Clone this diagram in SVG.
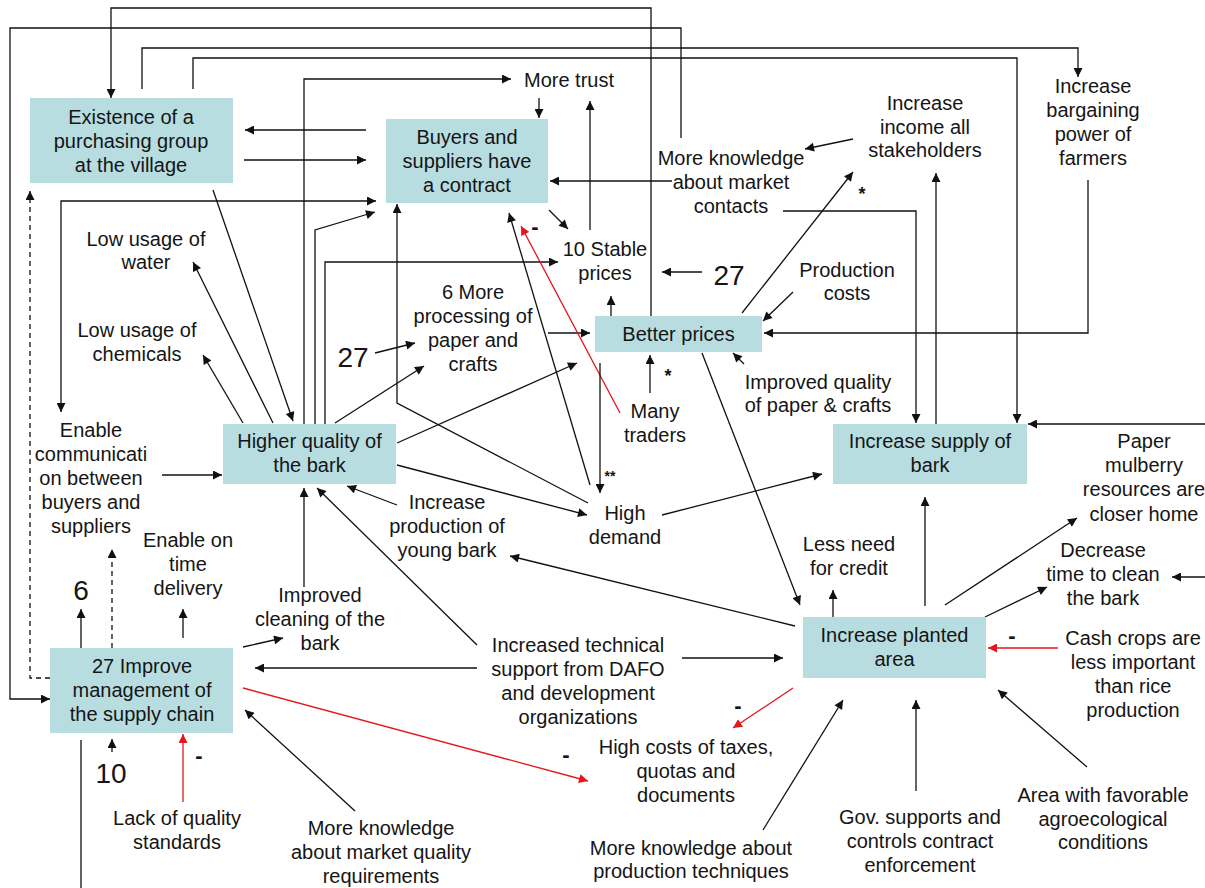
<svg xmlns="http://www.w3.org/2000/svg" width="1205" height="888" viewBox="0 0 1205 888">
  <style>
    text { font-family: "Liberation Sans", Arial, sans-serif; font-size: 20px; fill: #151515; text-anchor: middle; }
    .num { font-size: 28px; }
    .sign { font-size: 22px; font-weight: bold; }
    .star { font-size: 18px; font-weight: bold; }
    .star2 { font-size: 14px; font-weight: bold; }
    .box { fill: #b7dde1; }
    .c { fill: none; stroke: #111; stroke-width: 1.3; marker-end: url(#ah); }
    .c.r { stroke: #e3161c; marker-end: url(#ahr); }
    .c.d { stroke-dasharray: 5 4; }
    .c.plain { marker-end: none; }
    .c.both { marker-start: url(#ahs); }
  </style>
  <defs>
    <marker id="ah" viewBox="0 0 10 10" refX="10" refY="5" markerWidth="10" markerHeight="9" markerUnits="userSpaceOnUse" orient="auto">
      <path d="M0,0 L10,5 L0,10 z" fill="#111"/>
    </marker>
    <marker id="ahs" viewBox="0 0 10 10" refX="10" refY="5" markerWidth="10" markerHeight="9" markerUnits="userSpaceOnUse" orient="auto-start-reverse">
      <path d="M0,0 L10,5 L0,10 z" fill="#111"/>
    </marker>
    <marker id="ahr" viewBox="0 0 10 10" refX="10" refY="5" markerWidth="10" markerHeight="9" markerUnits="userSpaceOnUse" orient="auto">
      <path d="M0,0 L10,5 L0,10 z" fill="#e3161c"/>
    </marker>
  </defs>

  <rect width="1205" height="888" fill="#fff"/>

  <!-- connectors -->
  <g id="connectors">
    <path class="c" d="M651,316 V8 H111 V98"/>
    <path class="c" d="M681,138 V28 H10 V699 H50"/>
    <path class="c" d="M142,89 V48 H1078 V77"/>
    <path class="c" d="M193,89 V58 H1017 V423"/>
    <path class="c" d="M304,424 V79 H511"/>
    <path class="c" d="M315,424 V230 L375,212"/>
    <path class="c" d="M325,424 V262 H558"/>
    <path class="c both" d="M61,412 V201 H376"/>
    <path class="c" d="M366,130 H245"/>
    <path class="c" d="M244,160 H366"/>
    <path class="c" d="M213,190 L293,421"/>
    <path class="c" d="M273,423 L193,262"/>
    <path class="c" d="M243,423 L203,355"/>
    <path class="c" d="M162,475 H222"/>
    <path class="c" d="M335,423 L424,366"/>
    <path class="c" d="M375,353 L415,343"/>
    <path class="c" d="M548,333 H590"/>
    <path class="c" d="M397,443 L577,363"/>
    <path class="c" d="M397,465 L587,515"/>
    <path class="c" d="M397,505 L347,486"/>
    <path class="c" d="M304,587 V488"/>
    <path class="c" d="M477,645 L317,488"/>
    <path class="c" d="M588,503 L397,403 V204"/>
    <path class="c" d="M590,485 L509,213"/>
    <path class="c r" d="M620,413 L521,226"/>
    <path class="c" d="M549,210 L568,229"/>
    <path class="c" d="M590,230 V101"/>
    <path class="c" d="M539,98 V118"/>
    <path class="c" d="M672,181 H550"/>
    <path class="c" d="M783,211 H916 V423"/>
    <path class="c" d="M853,139 L805,149"/>
    <path class="c" d="M742,313 L853,172"/>
    <path class="c" d="M936,424 V173"/>
    <path class="c" d="M1088,180 V333 H764"/>
    <path class="c" d="M793,292 L763,321"/>
    <path class="c" d="M702,272 H662"/>
    <path class="c" d="M611,316 V296"/>
    <path class="c" d="M650,393 V355"/>
    <path class="c" d="M744,364 L733,353"/>
    <path class="c" d="M600,363 V493"/>
    <path class="c" d="M702,353 L800,605"/>
    <path class="c" d="M662,515 L822,474"/>
    <path class="c" d="M795,626 L510,556"/>
    <path class="c" d="M477,668 H255"/>
    <path class="c" d="M682,658 H783"/>
    <path class="c r" d="M793,688 L733,728"/>
    <path class="c r" d="M243,688 L588,781"/>
    <path class="c" d="M243,647 L283,638"/>
    <path class="c" d="M183,638 V609"/>
    <path class="c" d="M81,648 V609"/>
    <path class="c d" d="M112,648 V549"/>
    <path class="c d" d="M50,678 H30 V191"/>
    <path class="c" d="M112,752 V739"/>
    <path class="c r" d="M183,802 V734"/>
    <path class="c" d="M355,811 L245,710"/>
    <path class="c plain" d="M81,740 V888"/>
    <path class="c" d="M763,830 L843,700"/>
    <path class="c" d="M916,791 V700"/>
    <path class="c" d="M1087,767 L998,690"/>
    <path class="c r" d="M1058,648 H988"/>
    <path class="c" d="M833,617 V590"/>
    <path class="c" d="M925,606 V497"/>
    <path class="c" d="M945,605 L1077,518"/>
    <path class="c" d="M985,617 L1047,587"/>
    <path class="c" d="M1205,577 H1172"/>
    <path class="c" d="M1205,424 H1028"/>
  </g>

  <!-- connector signs -->
  <g id="signs">
    <text class="sign" x="535" y="234">-</text>
    <text class="sign" x="1012" y="643">-</text>
    <text class="sign" x="738" y="713">-</text>
    <text class="sign" x="566" y="762">-</text>
    <text class="sign" x="199" y="763">-</text>
    <text class="star" x="862" y="200">*</text>
    <text class="star" x="668" y="382">*</text>
    <text class="star2" x="610" y="481">**</text>
  </g>

  <!-- nodes -->
  <g id="n-purchasing-group">
    <rect class="box" x="30" y="98" width="203" height="85"/>
    <text x="131" y="124">Existence of a<tspan x="131" y="148">purchasing group</tspan><tspan x="131" y="172">at the village</tspan></text>
  </g>
  <g id="n-contract">
    <rect class="box" x="386" y="119" width="162" height="84"/>
    <text x="467" y="144">Buyers and<tspan x="467" y="168">suppliers have</tspan><tspan x="467" y="192">a contract</tspan></text>
  </g>
  <g id="n-trust">
    <text x="569" y="87">More trust</text>
  </g>
  <g id="n-market-contacts">
    <text x="731" y="165">More knowledge<tspan x="731" y="189">about market</tspan><tspan x="731" y="213">contacts</tspan></text>
  </g>
  <g id="n-stable-prices">
    <text x="605" y="256">10 Stable<tspan x="605" y="280">prices</tspan></text>
  </g>
  <g id="n-ref27a">
    <text class="num" x="729" y="285">27</text>
  </g>
  <g id="n-income">
    <text x="925" y="110">Increase<tspan x="925" y="134">income all</tspan><tspan x="925" y="157">stakeholders</tspan></text>
  </g>
  <g id="n-bargaining">
    <text x="1093" y="93">Increase<tspan x="1093" y="117">bargaining</tspan><tspan x="1093" y="141">power of</tspan><tspan x="1093" y="165">farmers</tspan></text>
  </g>
  <g id="n-production-costs">
    <text x="847" y="277">Production<tspan x="847" y="300">costs</tspan></text>
  </g>
  <g id="n-better-prices">
    <rect class="box" x="595" y="316" width="167" height="36"/>
    <text x="678.5" y="341">Better prices</text>
  </g>
  <g id="n-processing">
    <text x="473" y="299">6 More<tspan x="473" y="323">processing of</tspan><tspan x="473" y="347">paper and</tspan><tspan x="473" y="371">crafts</tspan></text>
  </g>
  <g id="n-ref27b">
    <text class="num" x="353" y="367">27</text>
  </g>
  <g id="n-water">
    <text x="146" y="246">Low usage of<tspan x="146" y="269">water</tspan></text>
  </g>
  <g id="n-chemicals">
    <text x="137" y="337">Low usage of<tspan x="137" y="361">chemicals</tspan></text>
  </g>
  <g id="n-communication">
    <text x="91" y="437">Enable<tspan x="91" y="461">communicati</tspan><tspan x="91" y="485">on between</tspan><tspan x="91" y="509">buyers and</tspan><tspan x="91" y="533">suppliers</tspan></text>
  </g>
  <g id="n-bark-quality">
    <rect class="box" x="223" y="424" width="173" height="60"/>
    <text x="309.5" y="448">Higher quality of<tspan x="309.5" y="472">the bark</tspan></text>
  </g>
  <g id="n-young-bark">
    <text x="447" y="509">Increase<tspan x="447" y="533">production of</tspan><tspan x="447" y="557">young bark</tspan></text>
  </g>
  <g id="n-high-demand">
    <text x="625" y="520">High<tspan x="625" y="544">demand</tspan></text>
  </g>
  <g id="n-traders">
    <text x="655" y="418">Many<tspan x="655" y="442">traders</tspan></text>
  </g>
  <g id="n-paper-quality">
    <text x="818" y="389">Improved quality<tspan x="818" y="412">of paper &amp; crafts</tspan></text>
  </g>
  <g id="n-supply">
    <rect class="box" x="833" y="424" width="194" height="60"/>
    <text x="930" y="448">Increase supply of<tspan x="930" y="472">bark</tspan></text>
  </g>
  <g id="n-mulberry">
    <text x="1144" y="448">Paper<tspan x="1144" y="472">mulberry</tspan><tspan x="1144" y="496">resources are</tspan><tspan x="1144" y="521">closer home</tspan></text>
  </g>
  <g id="n-credit">
    <text x="849" y="551">Less need<tspan x="849" y="575">for credit</tspan></text>
  </g>
  <g id="n-clean-time">
    <text x="1103" y="557">Decrease<tspan x="1103" y="581">time to clean</tspan><tspan x="1103" y="605">the bark</tspan></text>
  </g>
  <g id="n-planted-area">
    <rect class="box" x="803" y="617" width="183" height="61"/>
    <text x="894.5" y="642">Increase planted<tspan x="894.5" y="666">area</tspan></text>
  </g>
  <g id="n-cash-crops">
    <text x="1133" y="645">Cash crops are<tspan x="1133" y="669">less important</tspan><tspan x="1133" y="693">than rice</tspan><tspan x="1133" y="717">production</tspan></text>
  </g>
  <g id="n-favorable-area">
    <text x="1103" y="802">Area with favorable<tspan x="1103" y="826">agroecological</tspan><tspan x="1103" y="849">conditions</tspan></text>
  </g>
  <g id="n-gov">
    <text x="920" y="824">Gov. supports and<tspan x="920" y="848">controls contract</tspan><tspan x="920" y="872">enforcement</tspan></text>
  </g>
  <g id="n-techniques">
    <text x="691" y="855">More knowledge about<tspan x="691" y="878">production techniques</tspan></text>
  </g>
  <g id="n-taxes">
    <text x="686" y="754">High costs of taxes,<tspan x="686" y="778">quotas and</tspan><tspan x="686" y="802">documents</tspan></text>
  </g>
  <g id="n-technical-support">
    <text x="578" y="652">Increased technical<tspan x="578" y="676">support from DAFO</tspan><tspan x="578" y="700">and development</tspan><tspan x="578" y="724">organizations</tspan></text>
  </g>
  <g id="n-quality-requirements">
    <text x="381" y="835">More knowledge<tspan x="381" y="859">about market quality</tspan><tspan x="381" y="883">requirements</tspan></text>
  </g>
  <g id="n-standards">
    <text x="177" y="825">Lack of quality<tspan x="177" y="849">standards</tspan></text>
  </g>
  <g id="n-ref10">
    <text class="num" x="111" y="783">10</text>
  </g>
  <g id="n-supply-chain">
    <rect class="box" x="50" y="648" width="183" height="85"/>
    <text x="142" y="673">27 Improve<tspan x="142" y="697">management of</tspan><tspan x="142" y="721">the supply chain</tspan></text>
  </g>
  <g id="n-ref6">
    <text class="num" x="81" y="600">6</text>
  </g>
  <g id="n-delivery">
    <text x="188" y="547">Enable on<tspan x="188" y="571">time</tspan><tspan x="188" y="595">delivery</tspan></text>
  </g>
  <g id="n-cleaning">
    <text x="320" y="602">Improved<tspan x="320" y="626">cleaning of the</tspan><tspan x="320" y="650">bark</tspan></text>
  </g>
</svg>
